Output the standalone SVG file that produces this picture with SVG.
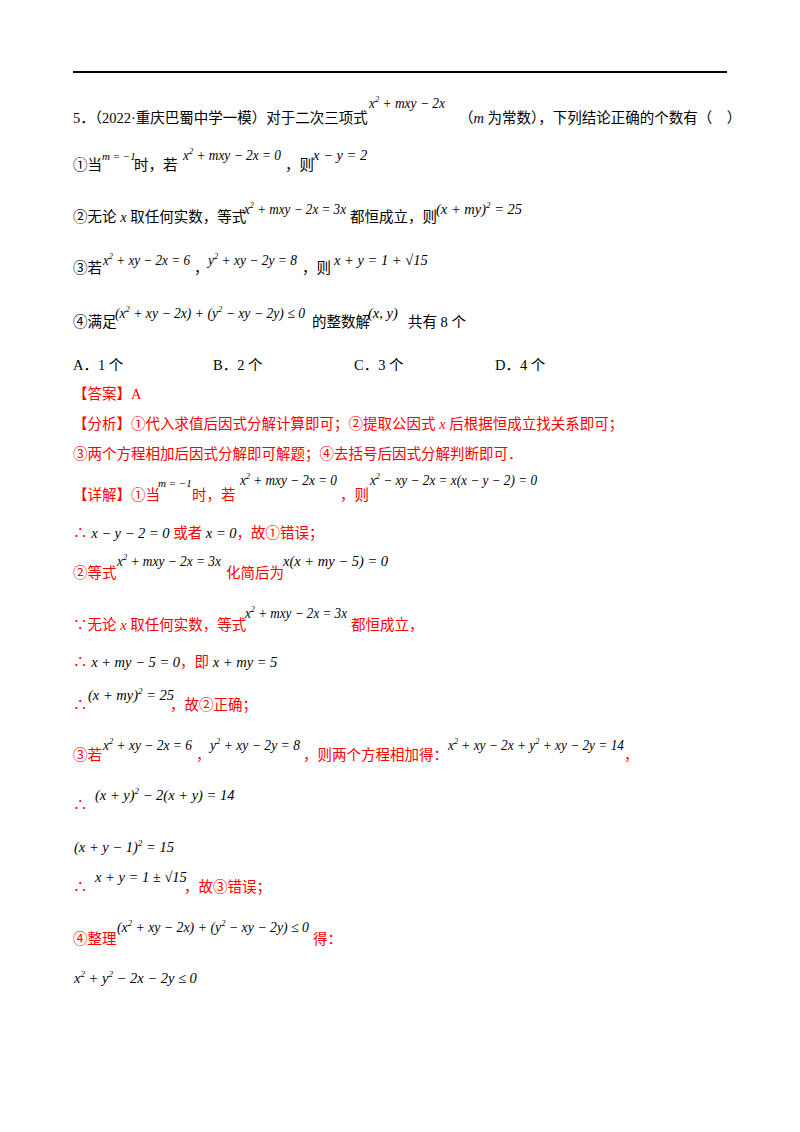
<svg xmlns="http://www.w3.org/2000/svg" width="800" height="1132" viewBox="0 0 800 1132">
<style>
text{font-family:"Liberation Serif","Noto Sans CJK SC",serif;font-size:14.5px;fill:#000}
.r{fill:#f00}
.m{font-style:italic;font-size:14.5px}
.s{font-size:9px}
</style>
<rect width="800" height="1132" fill="#fff"/>
<line x1="73" y1="72" x2="727" y2="72" stroke="#000" stroke-width="2"/>
<g id="question">
<text x="73" y="123">5．（2022·重庆巴蜀中学一模）对于二次三项式</text>
<text x="369" y="108" class="m" textLength="76" lengthAdjust="spacingAndGlyphs">x<tspan class="s" dy="-6">2</tspan><tspan dy="6"> + mxy − 2x</tspan></text>
<text x="459" y="123">（<tspan class="m">m</tspan> 为常数），下列结论正确的个数有（　）</text>
<text x="73" y="170">①当</text><text x="102" y="160" class="m" style="font-size:11px">m = −1</text><text x="134" y="170">时，若</text>
<text x="183" y="160" class="m" textLength="98" lengthAdjust="spacingAndGlyphs">x<tspan class="s" dy="-6">2</tspan><tspan dy="6"> + mxy − 2x = 0</tspan></text><text x="285" y="170">，则</text><text x="313" y="160" class="m">x − y = 2</text>
<text x="73" y="222">②无论 <tspan class="m">x</tspan> 取任何实数，等式</text>
<text x="244" y="214" class="m" textLength="102" lengthAdjust="spacingAndGlyphs">x<tspan class="s" dy="-6">2</tspan><tspan dy="6"> + mxy − 2x = 3x</tspan></text><text x="350" y="222">都恒成立，则</text>
<text x="436" y="214" class="m">(x + my)<tspan class="s" dy="-6">2</tspan><tspan dy="6"> = 25</tspan></text>
<text x="73" y="273">③若</text><text x="103" y="265" class="m" textLength="87" lengthAdjust="spacingAndGlyphs">x<tspan class="s" dy="-6">2</tspan><tspan dy="6"> + xy − 2x = 6</tspan></text><text x="194" y="273">，</text>
<text x="208" y="265" class="m" textLength="89" lengthAdjust="spacingAndGlyphs">y<tspan class="s" dy="-6">2</tspan><tspan dy="6"> + xy − 2y = 8</tspan></text><text x="302" y="273">，则</text><text x="334" y="265" class="m">x + y = 1 + √15</text>
<text x="73" y="327">④满足</text><text x="115" y="318" class="m" textLength="190" lengthAdjust="spacingAndGlyphs">(x<tspan class="s" dy="-6">2</tspan><tspan dy="6"> + xy − 2x) + (y</tspan><tspan class="s" dy="-6">2</tspan><tspan dy="6"> − xy − 2y) ≤ 0</tspan></text>
<text x="312" y="327">的整数解</text><text x="368" y="318" class="m">(x, y)</text><text x="408" y="327">共有 8 个</text>
<text x="73" y="370">A．1 个</text><text x="213" y="370">B．2 个</text><text x="354" y="370">C．3 个</text><text x="495" y="370">D．4 个</text>
</g>
<g id="answer">
<text x="73" y="399" class="r">【答案】A</text>
<text x="73" y="429" class="r">【分析】①代入求值后因式分解计算即可；②提取公因式 <tspan class="m">x</tspan> 后根据恒成立找关系即可；</text>
<text x="73" y="459" class="r">③两个方程相加后因式分解即可解题；④去括号后因式分解判断即可．</text>
<text x="73" y="500" class="r">【详解】①当</text><text x="158" y="487" style="font-size:11px" class="m">m = −1</text><text x="192" y="500" class="r">时，若</text>
<text x="240" y="485" class="m" textLength="97" lengthAdjust="spacingAndGlyphs">x<tspan class="s" dy="-6">2</tspan><tspan dy="6"> + mxy − 2x = 0</tspan></text><text x="340" y="500" class="r">，则</text>
<text x="370" y="485" class="m" textLength="167" lengthAdjust="spacingAndGlyphs">x<tspan class="s" dy="-6">2</tspan><tspan dy="6"> − xy − 2x = x(x − y − 2) = 0</tspan></text>
<text x="73" y="538" class="r">∴ <tspan class="m" style="fill:#000">x − y − 2 = 0</tspan> 或者 <tspan class="m" style="fill:#000">x = 0</tspan>，故①错误；</text>
<text x="73" y="578" class="r">②等式</text><text x="117" y="566" class="m" textLength="104" lengthAdjust="spacingAndGlyphs">x<tspan class="s" dy="-6">2</tspan><tspan dy="6"> + mxy − 2x = 3x</tspan></text>
<text x="226" y="578" class="r">化简后为</text><text x="283" y="566" class="m">x(x + my − 5) = 0</text>
<text x="73" y="630" class="r">∵无论 <tspan class="m">x</tspan> 取任何实数，等式</text>
<text x="245" y="618" class="m" textLength="102" lengthAdjust="spacingAndGlyphs">x<tspan class="s" dy="-6">2</tspan><tspan dy="6"> + mxy − 2x = 3x</tspan></text><text x="351" y="630" class="r">都恒成立，</text>
<text x="73" y="667" class="r">∴ <tspan class="m" style="fill:#000">x + my − 5 = 0</tspan>，即 <tspan class="m" style="fill:#000">x + my = 5</tspan></text>
<text x="73" y="710" class="r">∴</text><text x="88" y="700" class="m">(x + my)<tspan class="s" dy="-6">2</tspan><tspan dy="6"> = 25</tspan></text><text x="170" y="710" class="r">，故②正确；</text>
<text x="73" y="760" class="r">③若</text><text x="103" y="750" class="m" textLength="89" lengthAdjust="spacingAndGlyphs">x<tspan class="s" dy="-6">2</tspan><tspan dy="6"> + xy − 2x = 6</tspan></text><text x="196" y="760" class="r">，</text>
<text x="210" y="750" class="m" textLength="90" lengthAdjust="spacingAndGlyphs">y<tspan class="s" dy="-6">2</tspan><tspan dy="6"> + xy − 2y = 8</tspan></text><text x="303" y="760" class="r">，则两个方程相加得：</text>
<text x="448" y="750" class="m" textLength="176" lengthAdjust="spacingAndGlyphs">x<tspan class="s" dy="-6">2</tspan><tspan dy="6"> + xy − 2x + y</tspan><tspan class="s" dy="-6">2</tspan><tspan dy="6"> + xy − 2y = 14</tspan></text><text x="624" y="760" class="r">，</text>
<text x="73" y="810" class="r">∴</text><text x="95" y="800" class="m">(x + y)<tspan class="s" dy="-6">2</tspan><tspan dy="6"> − 2(x + y) = 14</tspan></text>
<text x="74" y="852" class="m">(x + y − 1)<tspan class="s" dy="-6">2</tspan><tspan dy="6"> = 15</tspan></text>
<text x="73" y="892" class="r">∴</text><text x="95" y="882" class="m">x + y = 1 ± √15</text><text x="184" y="892" class="r">，故③错误；</text>
<text x="73" y="944" class="r">④整理</text><text x="117" y="932" class="m" textLength="192" lengthAdjust="spacingAndGlyphs">(x<tspan class="s" dy="-6">2</tspan><tspan dy="6"> + xy − 2x) + (y</tspan><tspan class="s" dy="-6">2</tspan><tspan dy="6"> − xy − 2y) ≤ 0</tspan></text><text x="313" y="944" class="r">得：</text>
<text x="74" y="983" class="m">x<tspan class="s" dy="-6">2</tspan><tspan dy="6"> + y</tspan><tspan class="s" dy="-6">2</tspan><tspan dy="6"> − 2x − 2y ≤ 0</tspan></text>
</g>
</svg>
